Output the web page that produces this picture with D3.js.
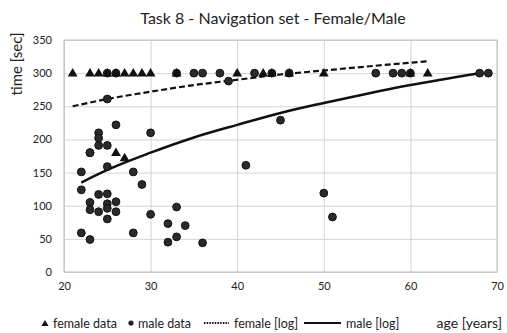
<!DOCTYPE html>
<html lang="en">
<head>
  <meta charset="UTF-8">
  <title>Task 8</title>
  <script src="https://d3js.org/d3.v7.min.js"></script>
  <style>
    body { margin: 0; background: #fff; }
    svg text { font-family: Lato, "Open Sans", sans-serif; fill: #222; }
    .gridlines .domain { stroke: none; }
    .gridlines line { stroke: #d4d4d4; }
    .axis .domain, .axis line { stroke: none; }
  </style>
</head>
<body>
  <svg id="chart" width="507" height="333"></svg>
  <script>
    // female data (triangles): [age, time]
    const femaleAges  = [21, 23, 24, 25, 26, 27, 28, 29, 30, 33, 40, 43, 44, 46, 50, 60, 62, 26, 27];
    const femaleTimes = [300, 300, 300, 300, 300, 300, 300, 300, 300, 300, 300, 300, 300, 300, 300, 300, 300, 180, 172];

    // male data (circles)
    const maleAges  = [25, 26, 33, 35, 36, 38, 42, 44, 46, 56, 58, 59, 60, 68, 69, 39, 25, 45,
                       24, 24, 24, 25, 23, 26, 30, 23, 22, 25, 28, 29, 41, 22, 24, 25, 23, 25, 26,
                       23, 24, 25, 26, 30, 25, 32, 33, 34, 22, 28, 23, 33, 32, 36, 50, 51];
    const maleTimes = [300, 300, 300, 300, 300, 300, 300, 300, 300, 300, 300, 300, 300, 300, 300, 288, 261, 229,
                       210, 202, 191, 191, 180, 222, 210, 180, 151, 159, 151, 132, 161, 124, 117, 118, 105, 103, 106,
                       94, 91, 96, 91, 87, 80, 73, 98, 70, 59, 59, 49, 53, 45, 44, 119, 83];

    // log trend lines
    const femaleTrendAges  = [21, 25, 30, 35, 40, 45, 50, 55, 62];
    const femaleTrendTimes = [250, 261, 272, 282, 290, 298, 304, 310, 318];
    const maleTrendAges  = [22, 25, 30, 35, 40, 45, 50, 55, 60, 68];
    const maleTrendTimes = [135, 154, 180, 203, 222, 240, 255, 269, 282, 300];

    const xTicks = [20, 30, 40, 50, 60, 70];
    const yTicks = [0, 50, 100, 150, 200, 250, 300, 350];

    const svg = d3.select("svg#chart");
    const margin = {top: 40, right: 10, bottom: 61, left: 64};
    const chartWidth = 433;
    const chartHeight = 232;

    const chartArea = svg.append("g")
                         .attr("transform", `translate(${margin.left},${margin.top})`);

    const xScale = d3.scaleLinear().domain([20, 70]).range([0, chartWidth]);
    const yScale = d3.scaleLinear().domain([0, 350]).range([chartHeight, 0]);

    // gridlines
    chartArea.append("g")
             .attr("class", "gridlines")
             .attr("transform", `translate(0,${chartHeight})`)
             .call(d3.axisBottom(xScale).tickValues(xTicks).tickFormat("").tickSize(-chartHeight));
    chartArea.append("g")
             .attr("class", "gridlines")
             .call(d3.axisLeft(yScale).tickValues(yTicks).tickFormat("").tickSize(-chartWidth));

    chartArea.append("rect")
             .attr("width", chartWidth)
             .attr("height", chartHeight)
             .attr("fill", "none")
             .attr("stroke", "#bdbdbd");

    // axes labels
    const bottomAxis = chartArea.append("g")
             .attr("class", "axis")
             .attr("transform", `translate(0,${chartHeight})`)
             .call(d3.axisBottom(xScale).tickValues(xTicks).tickSizeOuter(0).tickSize(0).tickPadding(10));
    bottomAxis.selectAll("text").style("font-size", "11px").style("font-family", "Lato, sans-serif").attr("fill", "#333");

    const leftAxis = chartArea.append("g")
             .attr("class", "axis")
             .call(d3.axisLeft(yScale).tickValues(yTicks).tickSize(0).tickPadding(12));
    leftAxis.selectAll("text").style("font-size", "11px").style("font-family", "Lato, sans-serif").attr("fill", "#333");

    // trend lines
    const lineGen = d3.line()
                      .x(d => xScale(d[0]))
                      .y(d => yScale(d[1]))
                      .curve(d3.curveMonotoneX);

    chartArea.append("path")
             .datum(femaleTrendAges.map((a, i) => [a, femaleTrendTimes[i]]))
             .attr("fill", "none")
             .attr("stroke", "#111")
             .attr("stroke-width", 2.2)
             .attr("stroke-dasharray", "6,3")
             .attr("d", lineGen);

    chartArea.append("path")
             .datum(maleTrendAges.map((a, i) => [a, maleTrendTimes[i]]))
             .attr("fill", "none")
             .attr("stroke", "#111")
             .attr("stroke-width", 2.5)
             .attr("d", lineGen);

    // points
    const tri = d3.symbol().type(d3.symbolTriangle).size(42);

    maleAges.forEach((a, i) => {
      chartArea.append("circle")
               .attr("r", 3.9)
               .attr("fill", "#2a2a2a")
               .attr("stroke", "#111")
               .attr("cx", xScale(a))
               .attr("cy", yScale(maleTimes[i]));
    });

    femaleAges.forEach((a, i) => {
      chartArea.append("path")
               .attr("d", tri())
               .attr("fill", "#111")
               .attr("transform", `translate(${xScale(a)},${yScale(femaleTimes[i]) + 0.5})`);
    });

    // title
    svg.append("text")
       .attr("x", 273)
       .attr("y", 24)
       .attr("text-anchor", "middle")
       .style("font-size", "16px")
       .text("Task 8 - Navigation set  - Female/Male");

    // y label
    svg.append("text")
       .attr("transform", "translate(22,64) rotate(-90)")
       .attr("text-anchor", "middle")
       .style("font-size", "15px")
       .text("time [sec]");

    // x label
    svg.append("text")
       .attr("x", 502)
       .attr("y", 328)
       .attr("text-anchor", "end")
       .style("font-size", "14px")
       .text("age [years]");

    // legend
    const legend = svg.append("g").attr("transform", "translate(0,323)");
    legend.append("path").attr("d", d3.symbol().type(d3.symbolTriangle).size(22)())
          .attr("fill", "#111").attr("transform", "translate(45,1)");
    legend.append("text").attr("x", 53).attr("y", 5).style("font-size", "12.5px").text("female data");
    legend.append("circle").attr("cx", 131).attr("cy", 0).attr("r", 2.6).attr("fill", "#222");
    legend.append("text").attr("x", 138).attr("y", 5).style("font-size", "12.5px").text("male data");
    legend.append("line").attr("x1", 204).attr("x2", 229).attr("y1", 0).attr("y2", 0)
          .attr("stroke", "#111").attr("stroke-width", 2).attr("stroke-dasharray", "1.5,1.2");
    legend.append("text").attr("x", 234).attr("y", 5).style("font-size", "12.5px").text("female [log]");
    legend.append("line").attr("x1", 304).attr("x2", 341).attr("y1", 0).attr("y2", 0)
          .attr("stroke", "#111").attr("stroke-width", 2);
    legend.append("text").attr("x", 346).attr("y", 5).style("font-size", "12.5px").text("male [log]");
  </script>
</body>
</html>
